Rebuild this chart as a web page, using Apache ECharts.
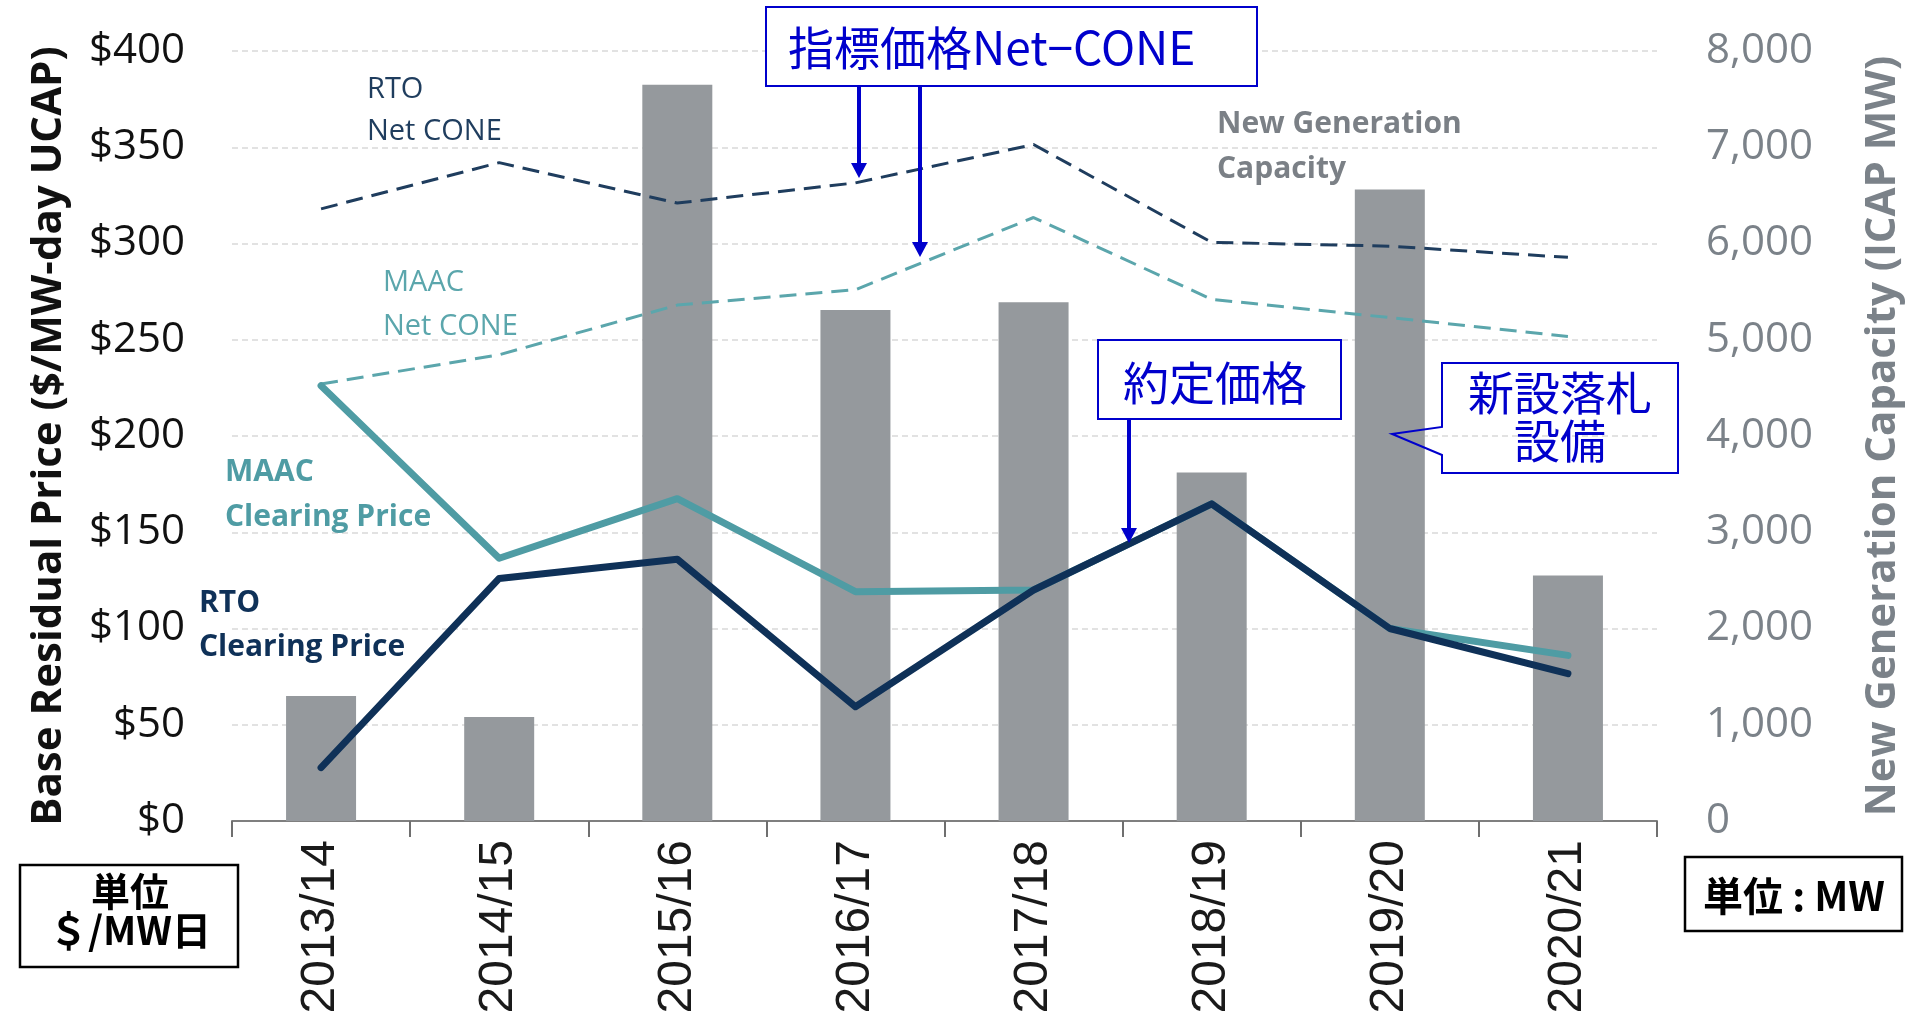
<!DOCTYPE html>
<html>
<head>
<meta charset="utf-8">
<title>PJM Base Residual Auction</title>
<script src="https://cdn.jsdelivr.net/npm/echarts@6/dist/echarts.min.js"></script>
<style>
  html, body { margin: 0; padding: 0; background: #ffffff; }
  #chart { width: 1915px; height: 1024px; }
</style>
</head>
<body>
<div id="chart"></div>
<script>
// Delivery years of the capacity auction
const periods = ['2013/14', '2014/15', '2015/16', '2016/17', '2017/18', '2018/19', '2019/20', '2020/21'];

// New generation capacity cleared (ICAP MW), right axis
const newCapacityMW = [1300, 1080, 7650, 5310, 5390, 3620, 6560, 2550];

// Clearing prices ($/MW-day UCAP)
const rtoClearing  = [27.73, 125.99, 136.00, 59.37, 120.00, 164.77, 100.00, 76.53];
const maacClearing = [226.15, 136.50, 167.46, 119.13, 120.00, 164.77, 100.00, 86.04];

// Net CONE ($/MW-day UCAP)
const rtoNetCone  = [318, 342, 321, 331.5, 351.4, 300.6, 298.6, 292.8];
const maacNetCone = [227, 242.2, 268, 276, 313.5, 271, 261.5, 251.7];

// Axis ranges and tick steps
const priceMin = 0, priceMax = 400, priceStep = 50;
const mwMin = 0, mwMax = 8000, mwStep = 1000;

const NAVY = '#0f3158';
const NAVY_DASH = '#1f3d5e';
const TEAL = '#4f9ca4';
const TEAL_DASH = '#5ba6ac';
const BAR_GRAY = '#95999d';
const AXIS_GRAY = '#7b8289';
const BLUE = '#0000cc';
const LATIN = "'Open Sans', 'Noto Sans', sans-serif";
const CJK = "'Noto Sans CJK JP', sans-serif";

const chart = echarts.init(document.getElementById('chart'), null, { renderer: 'canvas' });

function text(x, y, str, opts) {
  return {
    type: 'text', x: x, y: y, z: 100,
    style: Object.assign({
      text: str, fill: '#000', fontSize: 30, fontFamily: LATIN,
      align: 'left', verticalAlign: 'middle'
    }, opts)
  };
}
function arrow(x, y1, y2) {
  return [
    { type: 'line', z: 100, shape: { x1: x, y1: y1, x2: x, y2: y2 - 12 },
      style: { stroke: BLUE, lineWidth: 4 } },
    { type: 'polygon', z: 100, shape: { points: [[x - 8, y2 - 15], [x + 8, y2 - 15], [x, y2]] },
      style: { fill: BLUE } }
  ];
}

const graphics = [
  // series captions
  text(367, 111, 'RTO\nNet CONE', { fill: NAVY_DASH, fontSize: 29, lineHeight: 42 }),
  text(383, 305, 'MAAC\nNet CONE', { fill: TEAL_DASH, fontSize: 29, lineHeight: 44 }),
  text(225, 495, 'MAAC\nClearing Price', { fill: TEAL, fontSize: 30, fontWeight: 'bold', lineHeight: 45 }),
  text(199, 625, 'RTO\nClearing Price', { fill: NAVY, fontSize: 30, fontWeight: 'bold', lineHeight: 44 }),
  text(1217, 147, 'New Generation\nCapacity', { fill: '#7b8086', fontSize: 30, fontWeight: 'bold', lineHeight: 45 }),

  // Net-CONE note
  { type: 'rect', z: 99, shape: { x: 766, y: 7, width: 491, height: 79 },
    style: { fill: '#ffffff', stroke: BLUE, lineWidth: 2 } },
  text(788, 48, '指標価格Net−CONE', { fill: BLUE, fontSize: 46, fontFamily: CJK }),
  ...arrow(859, 86, 178),
  ...arrow(920, 86, 257),

  // clearing price note
  { type: 'rect', z: 99, shape: { x: 1098, y: 340, width: 243, height: 79 },
    style: { fill: '#ffffff', stroke: BLUE, lineWidth: 2 } },
  text(1215, 383, '約定価格', { fill: BLUE, fontSize: 46, fontFamily: CJK, align: 'center' }),
  ...arrow(1129, 419, 543),

  // new capacity callout
  { type: 'polygon', z: 99,
    shape: { points: [[1442, 363], [1678, 363], [1678, 473], [1442, 473], [1442, 455], [1392, 434], [1442, 427]] },
    style: { fill: 'none', stroke: BLUE, lineWidth: 2 } },
  text(1560, 417, '新設落札\n設備', { fill: BLUE, fontSize: 46, fontFamily: CJK, align: 'center', lineHeight: 48 }),

  // unit boxes
  { type: 'rect', z: 99, shape: { x: 20, y: 865, width: 218, height: 102 },
    style: { fill: '#ffffff', stroke: '#000', lineWidth: 2.5 } },
  text(130, 911, '単位\n＄/MW日', { fill: '#000', fontSize: 39, fontFamily: CJK, fontWeight: 'bold', align: 'center', lineHeight: 39 }),
  { type: 'rect', z: 99, shape: { x: 1685, y: 857, width: 217, height: 74 },
    style: { fill: '#ffffff', stroke: '#000', lineWidth: 2.5 } },
  text(1794, 896, '単位 : MW', { fill: '#000', fontSize: 40, fontFamily: CJK, fontWeight: 'bold', align: 'center' })
];

const option = {
  animation: false,
  backgroundColor: '#ffffff',
  grid: { left: 232, right: 258, top: 51, bottom: 203, containLabel: false },
  xAxis: {
    type: 'category',
    data: periods,
    boundaryGap: true,
    axisLine: { show: true, lineStyle: { color: '#7f7f7f', width: 2 } },
    axisTick: { show: true, length: 16, alignWithLabel: false, lineStyle: { color: '#6f6f6f', width: 2 } },
    axisLabel: { rotate: 90, margin: 19, fontSize: 48, fontFamily: "'Liberation Sans', Arial, sans-serif", color: '#1a1a1a' },
    splitLine: { show: false }
  },
  yAxis: [
    {
      type: 'value', position: 'left',
      min: priceMin, max: priceMax, interval: priceStep,
      name: 'Base Residual Price ($/MW-day UCAP)',
      nameLocation: 'middle', nameRotate: 90, nameGap: 162,
      nameTextStyle: { fontSize: 42, fontWeight: 'bold', fontFamily: LATIN, color: '#111' },
      axisLine: { show: false }, axisTick: { show: false },
      axisLabel: { formatter: v => '$' + v, fontSize: 42, fontFamily: LATIN, color: '#111', margin: 47 },
      splitLine: { show: true, lineStyle: { color: '#d9d9d9', width: 1.5, type: [6, 4] } }
    },
    {
      type: 'value', position: 'right',
      min: mwMin, max: mwMax, interval: mwStep,
      name: 'New Generation Capacity (ICAP MW)',
      nameLocation: 'middle', nameRotate: 90, nameGap: 205,
      nameTextStyle: { fontSize: 42, fontWeight: 'bold', fontFamily: LATIN, color: AXIS_GRAY },
      axisLine: { show: false }, axisTick: { show: false },
      axisLabel: { formatter: v => v.toLocaleString('en-US'), fontSize: 42, fontFamily: LATIN, color: AXIS_GRAY, margin: 49 },
      splitLine: { show: false }
    }
  ],
  series: [
    {
      name: 'New Generation Capacity', type: 'bar', yAxisIndex: 1,
      data: newCapacityMW, barWidth: 70,
      itemStyle: { color: BAR_GRAY }, silent: true, z: 1
    },
    {
      name: 'MAAC Net CONE', type: 'line', yAxisIndex: 0, data: maacNetCone,
      showSymbol: false, symbol: 'none', silent: true, z: 2,
      lineStyle: { color: TEAL_DASH, width: 3, type: [17, 9] }
    },
    {
      name: 'RTO Net CONE', type: 'line', yAxisIndex: 0, data: rtoNetCone,
      showSymbol: false, symbol: 'none', silent: true, z: 3,
      lineStyle: { color: NAVY_DASH, width: 3, type: [17, 9] }
    },
    {
      name: 'MAAC Clearing Price', type: 'line', yAxisIndex: 0, data: maacClearing,
      showSymbol: false, symbol: 'none', silent: true, z: 4,
      lineStyle: { color: TEAL, width: 7, cap: 'round', join: 'round' }
    },
    {
      name: 'RTO Clearing Price', type: 'line', yAxisIndex: 0, data: rtoClearing,
      showSymbol: false, symbol: 'none', silent: true, z: 5,
      lineStyle: { color: NAVY, width: 7, cap: 'round', join: 'round' }
    }
  ],
  graphic: graphics
};

chart.setOption(option);
</script>
</body>
</html>
